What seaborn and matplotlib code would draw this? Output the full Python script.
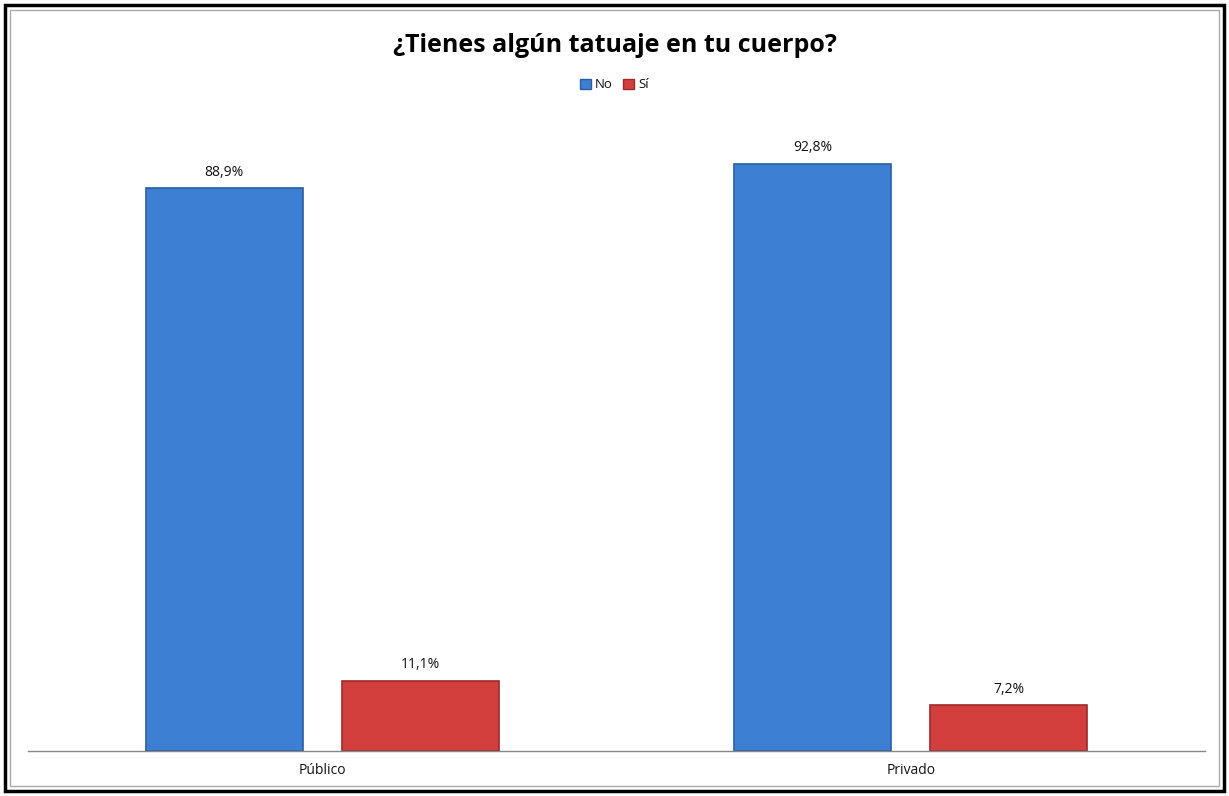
import seaborn as sns
import matplotlib.pyplot as plt
import pandas as pd
from matplotlib.patches import Rectangle

tipos = ["Público", "Privado"]
respuestas = ["No", "Sí"]
no_vals = [88.9, 92.8]
si_vals = [11.1, 7.2]
etiquetas = [["88,9%", "92,8%"], ["11,1%", "7,2%"]]


def main():
    sns.set_theme(style="white")
    plt.rcParams['font.family'] = ['Open Sans', 'DejaVu Sans']

    data = pd.DataFrame({
        "tipo": tipos * 2,
        "respuesta": [respuestas[0]] * 2 + [respuestas[1]] * 2,
        "valor": no_vals + si_vals,
    })

    fig = plt.figure(figsize=(12.29, 7.96), dpi=100)
    ax = fig.add_axes([28 / 1229, 45 / 796, 1177 / 1229, 633 / 796])

    colores = ["#3d7fd3", "#d33f3c"]
    bordes = ["#2b5f9f", "#9b2b29"]
    sns.barplot(data=data, x="tipo", y="valor", hue="respuesta",
                palette=colores, saturation=1, width=0.667, gap=0.2,
                linewidth=0, ax=ax, legend=False)
    for patch, edge in zip(ax.patches, [bordes[0]] * 2 + [bordes[1]] * 2):
        patch.set_edgecolor(edge)
        patch.set_linewidth(1.2)

    for cont, labs in zip(ax.containers, etiquetas):
        ax.bar_label(cont, labels=labs, padding=6, fontsize=10, color="#111111")

    ax.set_ylim(0, 100)
    ax.set_xlim(-0.5, 1.5)
    ax.set_xlabel("")
    ax.set_ylabel("")
    ax.set_yticks([])
    ax.tick_params(axis="x", length=0, labelsize=10, pad=9, labelcolor="#111111")
    for s in ["top", "left", "right"]:
        ax.spines[s].set_visible(False)
    ax.spines["bottom"].set_color("#888888")
    ax.spines["bottom"].set_linewidth(1)

    fig.text(0.5, 1 - 45 / 796, "¿Tienes algún tatuaje en tu cuerpo?",
             ha="center", va="center", fontsize=18, fontweight="bold", color="black")

    # leyenda
    handles = [Rectangle((0, 0), 1, 1, facecolor=c, edgecolor=e)
               for c, e in zip(colores, bordes)]
    fig.legend(handles, respuestas, loc="center", bbox_to_anchor=(0.5, 1 - 85 / 796),
               ncol=2, frameon=False, fontsize=9.5, handlelength=0.8, handleheight=0.8,
               handletextpad=0.3, columnspacing=0.8, labelcolor="#111111")

    # marcos
    fig.patches.append(Rectangle((5 / 1229, 5 / 796), 1219 / 1229, 786 / 796,
                                 transform=fig.transFigure, fill=False,
                                 edgecolor="black", linewidth=2.5))
    fig.patches.append(Rectangle((10 / 1229, 10 / 796), 1209 / 1229, 776 / 796,
                                 transform=fig.transFigure, fill=False,
                                 edgecolor="#aaaaaa", linewidth=1))

    plt.savefig("out.png", dpi=100)


if __name__ == '__main__':
    main()
